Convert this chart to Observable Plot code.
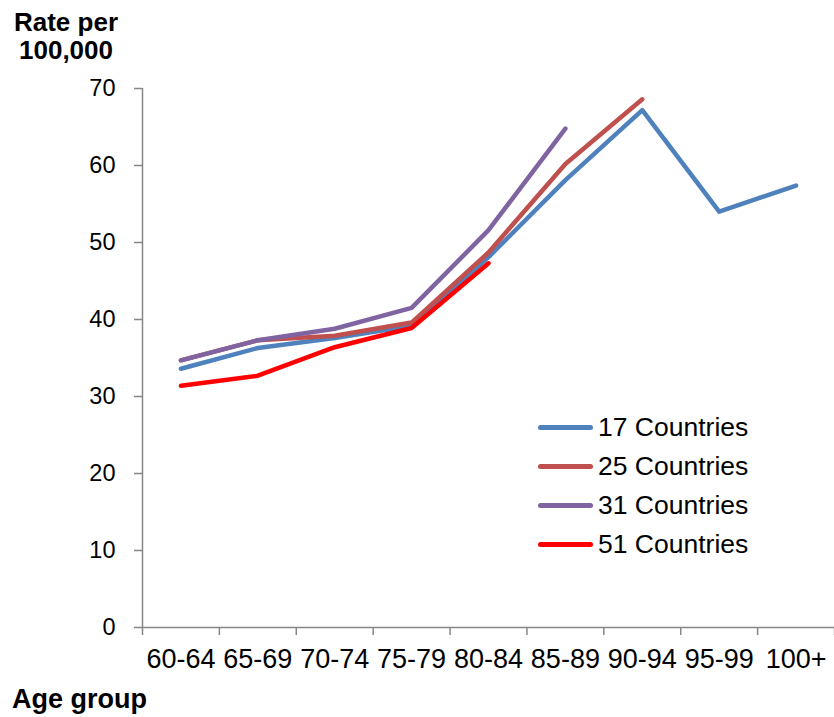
<!DOCTYPE html>
<html>
<head>
<meta charset="utf-8">
<script src="https://cdn.jsdelivr.net/npm/d3@7"></script>
<script src="https://cdn.jsdelivr.net/npm/@observablehq/plot@0.6"></script>
<style>
  html, body { margin: 0; padding: 0; background: #fff; }
  #wrap { position: relative; width: 834px; height: 717px; font-family: "Liberation Sans", Arial, sans-serif; }
  #ytitle { position: absolute; left: 0; top: 8px; width: 132px; text-align: center; font-weight: bold; font-size: 26px; line-height: 28px; color: #000; }
  #xtitle { position: absolute; left: 12px; top: 684px; font-weight: bold; font-size: 27px; line-height: 30px; color: #000; }
  #legend { position: absolute; left: 538px; top: 408px; font-size: 26.5px; color: #000; }
  .lg { display: flex; align-items: center; height: 39px; }
  .sw { width: 55px; height: 5px; border-radius: 3px; margin-right: 5px; }
  #chart svg { display: block; }
</style>
</head>
<body>
<div id="wrap">
  <div id="chart"></div>
  <div id="ytitle">Rate per<br>100,000</div>
  <div id="xtitle">Age group</div>
  <div id="legend"></div>
</div>
<script>
const ageGroups = ["60-64","65-69","70-74","75-79","80-84","85-89","90-94","95-99","100+"];
const seriesNames = ["17 Countries","25 Countries","31 Countries","51 Countries"];
const seriesColors = ["#4F81BD","#C0504D","#8064A2","#FF0000"];
const values17 = [33.6, 36.3, 37.6, 39.2, 48.1, 58.1, 67.2, 54.0, 57.4];
const values25 = [34.7, 37.3, 37.9, 39.6, 48.7, 60.2, 68.6];
const values31 = [34.7, 37.3, 38.8, 41.5, 51.6, 64.8];
const values51 = [31.4, 32.7, 36.4, 38.9, 47.3];
const yTicks = [0,10,20,30,40,50,60,70];

const allValues = [values17, values25, values31, values51];
const rows = [];
allValues.forEach((vals, s) => vals.forEach((v, i) => rows.push({i, v, series: seriesNames[s]})));
const boundaries = d3.range(ageGroups.length + 1).map(k => k - 0.5);
const centers = d3.range(ageGroups.length);
const gray = "#868686";

const plot = Plot.plot({
  width: 834,
  height: 717,
  marginLeft: 142,
  marginRight: 0,
  marginTop: 88,
  marginBottom: 90,
  style: { fontFamily: "'Liberation Sans', Arial, sans-serif", background: "#fff", color: "#000" },
  x: { type: "linear", domain: [-0.5, ageGroups.length - 0.5], axis: null },
  y: { domain: [0, 70], axis: null },
  color: { domain: seriesNames, range: seriesColors },
  marks: [
    Plot.ruleX([-0.5], { stroke: gray, strokeWidth: 1.5 }),
    Plot.ruleY([0], { stroke: gray, strokeWidth: 1.5 }),
    Plot.axisY({ ticks: yTicks, tickSize: 8, tickPadding: 19, fontSize: 23.5, stroke: gray, strokeWidth: 1.5, strokeOpacity: 1, label: null, fill: "#000" }),
    Plot.axisX({ ticks: boundaries, tickSize: 8, tickFormat: () => "", stroke: gray, strokeWidth: 1.5, strokeOpacity: 1, label: null }),
    Plot.axisX({ ticks: centers, tickSize: 0, tickPadding: 21, tickFormat: i => ageGroups[i], fontSize: 27, label: null, fill: "#000" }),
    Plot.line(rows, { x: "i", y: "v", z: "series", stroke: "series", strokeWidth: 4.5, strokeLinejoin: "round", strokeLinecap: "round" })
  ]
});
document.getElementById("chart").appendChild(plot);

const legend = document.getElementById("legend");
seriesNames.forEach((name, k) => {
  const row = document.createElement("div");
  row.className = "lg";
  const sw = document.createElement("div");
  sw.className = "sw";
  sw.style.background = seriesColors[k];
  const t = document.createElement("span");
  t.textContent = name;
  row.appendChild(sw);
  row.appendChild(t);
  legend.appendChild(row);
});
</script>
</body>
</html>
